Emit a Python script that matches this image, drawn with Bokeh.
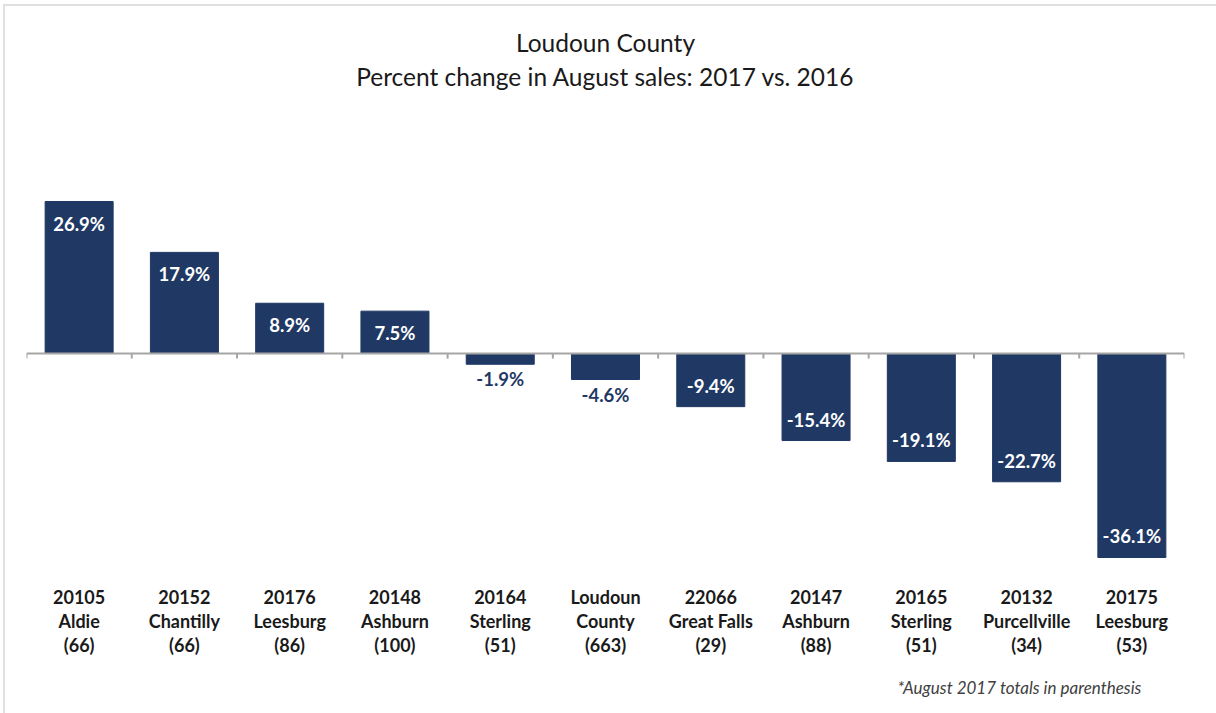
from bokeh.plotting import figure
from bokeh.models import FactorRange, Range1d, Span, Title, ColumnDataSource
from bokeh.core.properties import value
from bokeh.embed import file_html
from bokeh.resources import INLINE

zips = ["20105", "20152", "20176", "20148", "20164", "Loudoun", "22066", "20147", "20165", "20132", "20175"]
places = ["Aldie", "Chantilly", "Leesburg", "Ashburn", "Sterling", "County", "Great Falls", "Ashburn", "Sterling", "Purcellville", "Leesburg"]
totals = [66, 66, 86, 100, 51, 663, 29, 88, 51, 34, 53]
pct_change = [26.9, 17.9, 8.9, 7.5, -1.9, -4.6, -9.4, -15.4, -19.1, -22.7, -36.1]

NAVY = "#1F3864"
FONT = "Lato"

cats = [f"{z}\n{pl}\n({t})" for z, pl, t in zip(zips, places, totals)]

labels = [f"{v:.1f}%" for v in pct_change]
outside = [(-5 < v < 0) for v in pct_change]
y_off = []
colors = []
for v, o in zip(pct_change, outside):
    if v >= 0:
        y_off.append(22)
        colors.append("white")
    elif o:
        y_off.append(15)
        colors.append(NAVY)
    else:
        y_off.append(-21)
        colors.append("white")

src = ColumnDataSource(dict(x=cats, top=pct_change, label=labels, yoff=y_off, color=colors))

p = figure(
    x_range=FactorRange(*cats, range_padding=0),
    y_range=Range1d(-38.58, 45.49),
    frame_width=1158, frame_height=475,
    min_border_left=21, min_border_right=32, min_border_top=90, min_border_bottom=135,
    output_backend="svg", toolbar_location=None,
)
p.styles = {"border-left": "2px solid #e0e0e0", "border-top": "2px solid #e0e0e0",
            "border-bottom": "2px solid #ececec", "margin-left": "3px", "margin-top": "4px"}

p.vbar(x="x", top="top", bottom=0, width=0.646, source=src, fill_color=NAVY, line_color=NAVY)

p.add_layout(Span(location=0, dimension="width", line_color="#a6a6a6", line_width=2))
bounds = list(range(len(cats) + 1))
p.segment(x0=bounds, y0=[0] * len(bounds), x1=bounds, y1=[-0.9] * len(bounds),
          line_color="#a6a6a6", line_width=2)

p.text(x="x", y="top", text="label", y_offset="yoff", text_color="color", source=src,
       text_align="center", text_baseline="middle", text_font=value(FONT),
       text_font_size="18.5px", text_font_style="bold")

p.yaxis.visible = False
p.xgrid.visible = False
p.ygrid.visible = False
p.outline_line_color = None

ax = p.xaxis[0]
ax.axis_line_color = None
ax.major_tick_line_color = None
ax.minor_tick_line_color = None
ax.major_tick_out = 0
ax.major_label_standoff = 14
ax.major_label_text_font = FONT
ax.major_label_text_font_size = "18px"
ax.major_label_text_font_style = "bold"
ax.major_label_text_color = "#1a1a1a"
ax.major_label_text_line_height = 1.11

p.add_layout(Title(text="*August 2017 totals in parenthesis", align="right", offset=43,
                   standoff=31, text_font=FONT, text_font_size="17px", text_font_style="italic",
                   text_color="#404040"), "below")

p.add_layout(Title(text="Percent change in August sales: 2017 vs. 2016", align="center",
                   text_font=FONT, text_font_size="24.5px", text_font_style="normal",
                   standoff=12, text_color="#1a1a1a"), "above")
p.add_layout(Title(text="Loudoun County", align="center",
                   text_font=FONT, text_font_size="24.5px", text_font_style="normal",
                   standoff=-6, text_color="#1a1a1a"), "above")

open("out.html", "w").write(file_html(p, INLINE))
